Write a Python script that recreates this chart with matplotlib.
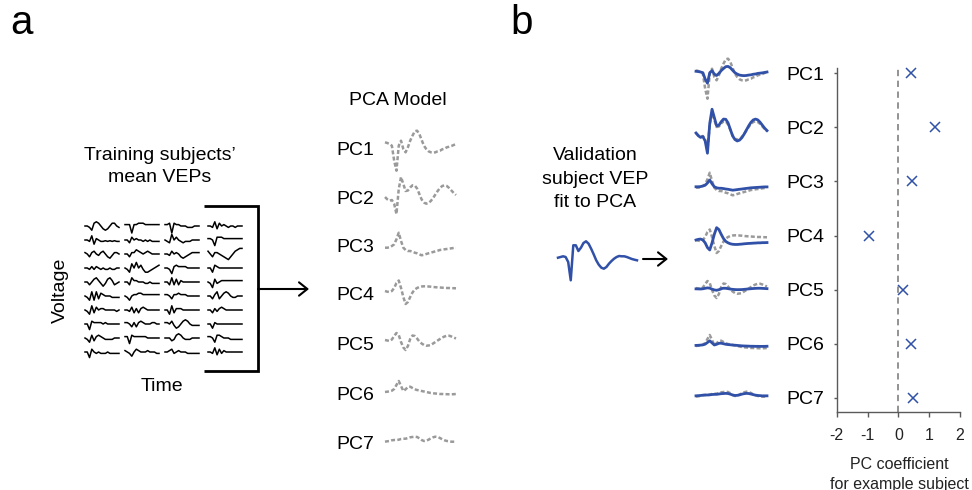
import matplotlib
matplotlib.use("Agg")
import matplotlib.pyplot as plt
import matplotlib.transforms as mtransforms

plt.rcParams['font.family'] = ['Liberation Sans', 'DejaVu Sans']
plt.rcParams['axes.unicode_minus'] = False

# ---------------- data ----------------
pc_names = ['PC1', 'PC2', 'PC3', 'PC4', 'PC5', 'PC6', 'PC7']
pc_index = [1, 2, 3, 4, 5, 6, 7]

pc1 = [1.7, 1.0, 0.0, -1.7, -16.7, -26.7, -1.7, 3.3, -5.0, -8.3, -3.3, 3.3, 8.3, 12.7, 13.3, 10.0,
       4.0, -1.7, -5.0, -7.3, -8.3, -8.7, -8.3, -7.3, -6.7, -5.3, -4.7, -3.3, -2.7, -2.0, -1.0, 0.0]
pc2 = [0.0, -2.3, -3.7, -3.0, -6.7, -17.0, 8.0, 20.0, 13.0, 6.0, 6.5, 9.5, 11.7, 11.5, 8.5, 3.0,
       -2.5, -5.5, -6.7, -6.0, -4.0, -1.0, 2.5, 6.0, 9.0, 11.0, 11.7, 11.0, 9.0, 6.5, 4.0, 2.0]
pc3 = [-1.7, -1.7, -1.3, 0.0, 1.7, 6.7, 13.3, 5.0, -1.7, -4.0, -5.0, -5.0, -5.7, -6.7, -7.3, -8.3,
       -9.3, -8.7, -8.0, -7.3, -6.7, -6.0, -5.3, -4.7, -4.0, -3.7, -3.3, -3.0, -2.7, -2.3, -2.0, -2.0]
pc4 = [0.0, -0.7, -1.0, 0.0, 3.0, 8.0, 10.5, 3.0, -6.0, -13.0, -11.0, -6.0, -1.5, 1.5, 3.0, 4.0,
       4.5, 4.7, 4.7, 4.5, 4.3, 4.0, 3.8, 3.6, 3.5, 3.3, 3.2, 3.0, 3.0, 2.8, 2.8, 2.7]
pc5 = [1.0, 0.5, 0.0, 1.5, 5.0, 8.0, 6.0, -1.0, -6.5, -9.0, -5.0, 2.0, 5.5, 5.0, 2.5, -0.5,
       -2.5, -4.0, -4.7, -4.5, -4.0, -2.5, -1.0, 0.5, 2.0, 3.5, 4.5, 5.3, 5.3, 4.5, 3.5, 2.5]
pc6 = [-1.0, -0.7, -0.3, 0.3, 2.0, 6.0, 10.0, 5.0, 0.0, 1.7, 4.0, 4.3, 3.0, 1.7, 1.0, 0.5,
       0.0, -0.5, -1.0, -1.5, -2.0, -2.3, -2.5, -2.7, -3.0, -3.0, -3.2, -3.2, -3.3, -3.3, -3.2, -3.0]
pc7 = [-1.7, -1.3, -1.0, -0.3, 0.0, 0.0, 0.3, 1.0, 1.3, 1.3, 2.0, 2.7, 3.0, 3.3, 3.0, 1.7,
       0.0, -1.0, -0.7, 0.3, 1.7, 2.7, 3.3, 3.0, 2.0, 0.7, -0.3, -1.0, -1.3, -1.7, -1.7, -1.7]
pcs = [pc1, pc2, pc3, pc4, pc5, pc6, pc7]

# PC coefficients for the example (validation) subject
coefs = [0.42, 1.19, 0.45, -0.95, 0.14, 0.42, 0.49]

validation_vep = [-0.7, 0.0, 0.7, 0.0, -5.0, -23.3, 11.7, 11.7, 6.0, 9.3, 14.0, 15.7, 13.3, 8.3, 2.7, -3.3,
                  -7.7, -10.7, -11.7, -10.0, -6.7, -4.0, -1.7, 0.0, 1.0, 0.7, 0.7, 0.0, -1.0, -2.0, -2.7, -3.3]

# training subjects' mean VEPs (4 columns x 10 subjects)
train_col1 = [
    [0, 0, -1, -3, 2, 3, 2, 0, -2, -3, -2, 0, 2, 2, 0, -1],
    [0, 0, -1, 3, -3, 1, 0, -1, -1, -0.5, -1, -0.5, -1, -0.5, -1, -1],
    [1, 0, -2, 1, 2, 0, -1, 1, 2, 0, -2, -3, -1, 1, 1, 0],
    [0, 0, -1, 1, -1, 1, 0, -1, 0, -1, -1, 0, -1, -1, 0, 0],
    [0, 0, -2, 0, 2, 3, 1, -1, -3, -1, 2, 3, 1, -2, -1, 0],
    [0, -1, -3, 3, -3, 3, -2, 2, 1, 0, 0, 0, -1, -1, -1, -1],
    [0, -1, -3, 3, -2, 2, 0, 1, 1, 0, 0, 0, 0, 0, -1, 0],
    [0, 0, -4, 2, 1, 1, 1, 1, 0, 1, 0, 0, 0, 0, 0, 0],
    [0, -1, -3, 2, -2, 1, 2, 1, 0, -1, -1, -1, -1, 0, 0, 0],
    [0, 0, -4, 2, 0, -1, 0, -1, -1, -1, 0, -1, -1, -1, -1, -1],
]
train_col2 = [
    [1, 1, 1, -5, 1, 1, 2, 2, 2, 1, 1, 1, 1, 1, 1, 1],
    [0, 0, -2, 2, 0, 1, 0, 0, -1, 0, -1, 0, -1, -1, -1, -1],
    [0, 0, -2, 1, 1, 3, 2, 1, 0, 1, 2, 1, 0, 0, 0, 0],
    [0, -1, -3, 3, 0, 4, 0, 2, -1, -3, -3, -2, -1, 0, 1, 2],
    [0, 0, -2, 3, 1, 1, 0, 0, 0, -1, -1, 0, -1, -1, -1, -1],
    [0, -1, -3, 0, 1, 1, 2, 2, 1, 1, 1, 1, 1, 1, 1, 1],
    [0, 0, -1, 2, -2, 1, -2, 1, 2, 1, 0, 0, 0, 0, 0, 0],
    [1, 1, 0, -2, 1, -2, 1, 2, 1, 0, 0, 0, 1, 1, 0, 0],
    [1, 1, -4, 2, 1, 1, 1, 1, 1, 1, 0, 0, 0, 0, 0, 0],
    [1, 0, -1, -3, 0, 2, 1, 0, 0, 0, 1, 0, 0, 0, -1, -1],
]
train_col3 = [
    [1, 1, 2, -5, 2, 1, 1, 0, 0, 0, -1, -1, -1, 0, 0, 0],
    [0, -1, -2, 4, 0, 2, 0, -1, -2, -1, -1, -1, 0, 0, 0, 0],
    [0, 0, -1, 2, 0, 1, 0, -2, -3, -2, -1, 0, 1, 1, 1, 1],
    [0, 0, -1, -4, 1, 2, 1, 1, 1, 1, 0, 0, 0, 0, 0, 0],
    [0, 0, -2, 3, -2, 2, -2, 1, 0, 0, 0, 0, 0, 0, 0, 0],
    [1, 1, 0, -2, 1, 1, 2, 1, 1, 1, 0, 0, 0, 0, 0, 0],
    [0, 0, -3, 3, -2, 1, 1, 1, 0, 0, 0, 0, 0, 0, 0, 0],
    [1, 1, 0, 2, -1, -3, -2, 0, 2, 3, 2, 0, -1, -1, -1, -1],
    [0, 0, 0, -2, -1, 2, 3, 2, 0, -1, -1, -1, 0, 0, 0, 0],
    [0, 0, 1, 2, -1, 0, 1, 0, 0, 0, -1, -1, -1, -1, -1, -1],
]
train_col4 = [
    [0, 0, -1, 3, -2, 2, 0, 1, 0, -1, 0, 0, -1, 0, 0, 0],
    [1, 1, 0, -4, 2, 2, 2, 1, 1, 1, 1, 1, 1, 1, 1, 1],
    [2, 0, -2, 1, 1, 0, -1, -2, -3, -4, -2, 0, 2, 3, 4, 4],
    [0, 0, -3, 2, 1, 0, 0, 0, 0, 0, 0, 0, 0, 0, 0, 0],
    [0, -1, -4, 2, -1, 0, 1, 1, 1, 1, 1, 1, 1, 1, 1, 1],
    [0, 0, -2, 1, 3, -2, 0, 2, 3, 2, 0, -1, -1, 0, 0, 0],
    [0, 0, -2, 1, -1, 1, 2, 1, 0, 0, 0, 0, 0, 0, 0, 0],
    [0, 0, -3, 1, 0, 0, 0, 0, 0, 0, 0, 0, 0, 0, 0, 0],
    [1, 1, 0, -3, 2, 2, 1, 0, 0, 0, -1, -1, -1, -1, -1, -1],
    [0, 0, -1, 3, -2, 2, -1, 1, 0, 0, 0, 0, 0, 0, 0, 0],
]
train_cols = [train_col1, train_col2, train_col3, train_col4]

coef_ticks = [-2, -1, 0, 1, 2]

# ---------------- style ----------------
BLUE = '#3151a8'
GRAY = '#9a9a9a'
DASH = (0, (1.6, 0.9))
FS = 14

W, H = 972, 490
fig = plt.figure(figsize=(W / 100, H / 100), dpi=100)

# overlay axes in pixel coordinates for annotations
ov = fig.add_axes([0, 0, 1, 1])
ov.set_xlim(0, W)
ov.set_ylim(H, 0)
ov.axis('off')


def text_c(x, y, s, fs=FS, **kw):
    """place text so that the middle of its capitals sits at pixel y"""
    return ov.text(x, y + 0.36 * fs * 100 / 72, s, fontsize=fs, va='baseline', **kw)


def wave_axes(x0, yc, w, h, half=None):
    ax = fig.add_axes([x0 / W, 1 - (yc + h / 2) / H, w / W, h / H])
    half = h / 2 if half is None else half
    ax.set_ylim(-half, half)
    ax.axis('off')
    return ax


# ---------------- panel a ----------------
ov.text(10, 34, 'a', fontsize=29, va='baseline', ha='left')
text_c(160, 153, "Training subjects\u2019", ha='center')
text_c(160, 175, 'mean VEPs', ha='center')
ov.text(60, 290, 'Voltage', fontsize=FS, ha='center', va='center', rotation=90)
text_c(162, 384, 'Time', ha='center')

col_x0 = [85, 125, 165, 208]
for c, col in enumerate(train_cols):
    for r, trace in enumerate(col):
        ax = wave_axes(col_x0[c], 226 + 14 * r, 34, 14, half=5)
        ax.set_xlim(0, len(trace) - 1)
        ax.plot(range(len(trace)), trace, color='black', lw=1.1, clip_on=False)

# bracket and arrow
ov.plot([204, 258, 258, 204], [206, 206, 371, 371], color='black', lw=2.0,
        solid_joinstyle='miter', solid_capstyle='butt')
ov.annotate('', xy=(309, 289), xytext=(258, 289),
            arrowprops=dict(arrowstyle='->, head_length=0.5, head_width=0.4',
                            lw=1.5, color='black', mutation_scale=12,
                            shrinkA=0, shrinkB=0))

text_c(398, 98, 'PCA Model', ha='center')
pc_label_y_a = [148, 197, 245, 293, 343, 393, 442]
pc_base_y_a = [144, 197, 246, 291, 341, 391, 440]
for i, name in enumerate(pc_names):
    text_c(336, pc_label_y_a[i], name, ha='left')
    ax = wave_axes(385, pc_base_y_a[i], 71, 60)
    ax.set_xlim(0, len(pcs[i]) - 1)
    ax.plot(range(len(pcs[i])), pcs[i], color=GRAY, lw=1.8, ls=DASH, clip_on=False)

# ---------------- panel b ----------------
ov.text(510, 34, 'b', fontsize=29, va='baseline', ha='left')
text_c(595, 153, 'Validation', ha='center')
text_c(595, 177, 'subject VEP', ha='center')
text_c(595, 200, 'fit to PCA', ha='center')

ax = wave_axes(558, 257, 79, 70)
ax.set_xlim(0, len(validation_vep) - 1)
ax.plot(range(len(validation_vep)), validation_vep, color=BLUE, lw=1.8, clip_on=False)

ov.annotate('', xy=(668, 259), xytext=(643, 259),
            arrowprops=dict(arrowstyle='->, head_length=0.5, head_width=0.4',
                            lw=1.5, color='black', mutation_scale=12,
                            shrinkA=0, shrinkB=0))

# scatter of PC coefficients
sx0, sx1, sy0, sy1 = 836.7, 960.0, 68.3, 411.7
sax = fig.add_axes([sx0 / W, 1 - sy1 / H, (sx1 - sx0) / W, (sy1 - sy0) / H])
sax.axvline(0, color='#8a8a8a', lw=1.3, ls=(0, (3.5, 2.5)))
sax.plot(coefs, pc_index, 'x', color=BLUE, ms=7, mew=1.1, clip_on=False)
sax.set_xlim(-2, 2)
sax.set_ylim(7.255, 0.908)
sax.set_xticks(coef_ticks)
sax.set_xticklabels([str(v) for v in coef_ticks])
sax.set_yticks(pc_index)
sax.set_yticklabels([])
sax.patch.set_alpha(0)
for s in ['top', 'right']:
    sax.spines[s].set_visible(False)
for s in ['left', 'bottom']:
    sax.spines[s].set_color('#5a5a5a')
    sax.spines[s].set_linewidth(1.0)
sax.tick_params(axis='x', direction='out', length=3.6, width=1.0, color='#5a5a5a',
                pad=8, labelsize=11.5, labelcolor='#222222')
sax.tick_params(axis='y', direction='out', length=2.2, width=1.0, color='#5a5a5a')

text_c(899, 463, 'PC coefficient', fs=11.5, ha='center', color='#222222')
text_c(899, 483, 'for example subject', fs=11.5, ha='center', color='#222222')

# PC labels aligned with the scatter rows
blend = mtransforms.blended_transform_factory(ov.transData, sax.transData)
for i, name in enumerate(pc_names):
    ov.text(786, pc_index[i], name, fontsize=FS, ha='left', va='center_baseline',
            transform=blend)

# fitted components: gray = PC, blue = coefficient x PC
pc_base_y_b = [72, 133, 186, 240, 289, 345, 395]
for i in range(len(pcs)):
    ax = wave_axes(696, pc_base_y_b[i], 71, 60)
    ax.set_xlim(0, len(pcs[i]) - 1)
    ax.plot(range(len(pcs[i])), pcs[i], color=GRAY, lw=1.8, ls=DASH, clip_on=False)
    ax.plot(range(len(pcs[i])), [coefs[i] * v for v in pcs[i]], color=BLUE, lw=2.0,
            clip_on=False)

fig.savefig('out.png', dpi=100)
